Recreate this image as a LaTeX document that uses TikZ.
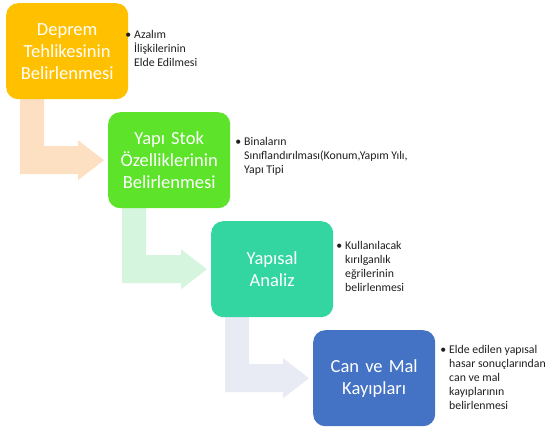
\documentclass[tikz,border=0pt]{standalone}
\usepackage{fontspec}
\setmainfont{Carlito}
\usetikzlibrary{calc,backgrounds}
\definecolor{cA}{RGB}{255,192,0}
\definecolor{cB}{RGB}{92,227,42}
\definecolor{cC}{RGB}{51,214,160}
\definecolor{cD}{RGB}{68,114,196}
\definecolor{aA}{RGB}{253,224,194}
\definecolor{aB}{RGB}{214,245,222}
\definecolor{aC}{RGB}{232,234,244}
\definecolor{sidetext}{RGB}{30,30,30}
\tikzset{
  stepbox/.style={rectangle, rounded corners=12pt, minimum width=122pt, minimum height=96pt,
    anchor=north west, inner sep=0pt, text=white, align=center, text width=118pt,
    font=\fontsize{18.5}{22}\selectfont},
  sidenote/.style={anchor=north west, inner sep=0pt, text=sidetext, align=left,
    font=\fontsize{11.8}{14}\selectfont},
}
\begin{document}
\begin{tikzpicture}[x=1pt,y=-1pt]
\useasboundingbox (0,0) rectangle (545,430);
% boxes
\node[stepbox, fill=cA] (b1) at (6,3) {Deprem\\Tehlikesinin\\Belirlenmesi};
\node[stepbox, fill=cB] (b2) at (108,112) {Yapı Stok\\Özelliklerinin\\Belirlenmesi};
\node[stepbox, fill=cC] (b3) at (211,221) {Yapısal\\Analiz};
\node[stepbox, fill=cD] (b4) at (313,330) {Can ve Mal\\Kayıpları};
% bent arrows (behind boxes)
\begin{pgfonlayer}{background}
\foreach \f/\t/\c in {b1/b2/aA, b2/b3/aB, b3/b4/aC}{
  \path ($(\f.south west)+(14,-6)$) coordinate (p1)
        ($(\f.south west)+(38,-6)$) coordinate (p2)
        ($(\t.west)+(-4,0)$) coordinate (tip)
        ($(\t.west)+(-4,-14)$) coordinate (su)
        ($(\t.west)+(-4,14)$) coordinate (sd)
        ($(\t.west)+(-30,-14)$) coordinate (hu)
        ($(\t.west)+(-30,-20)$) coordinate (hu2)
        ($(\t.west)+(-30,20)$) coordinate (hd2)
        ($(\t.west)+(-30,14)$) coordinate (hd);
  \fill[\c] (p1) -- (p2) -- (p2 |- su) -- (hu) -- (hu2) -- (tip)
    -- (hd2) -- (hd) -- (p1 |- sd) -- cycle;
}
\end{pgfonlayer}
% side notes
\node[sidenote] (n1) at (134,30) {\llap{•\hspace{3pt}}Azalım\\İlişkilerinin\\Elde Edilmesi};
\node[sidenote] (n2) at (244,137) {\llap{•\hspace{3pt}}Binaların\\Sınıflandırılması(Konum,Yapım Yılı,\\Yapı Tipi};
\node[sidenote] (n3) at (345,241) {\llap{•\hspace{3pt}}Kullanılacak\\kırılganlık\\eğrilerinin\\belirlenmesi};
\node[sidenote] (n4) at (449,345) {\llap{•\hspace{3pt}}Elde edilen yapısal\\hasar sonuçlarından\\can ve mal\\kayıplarının\\belirlenmesi};
\end{tikzpicture}
\end{document}
